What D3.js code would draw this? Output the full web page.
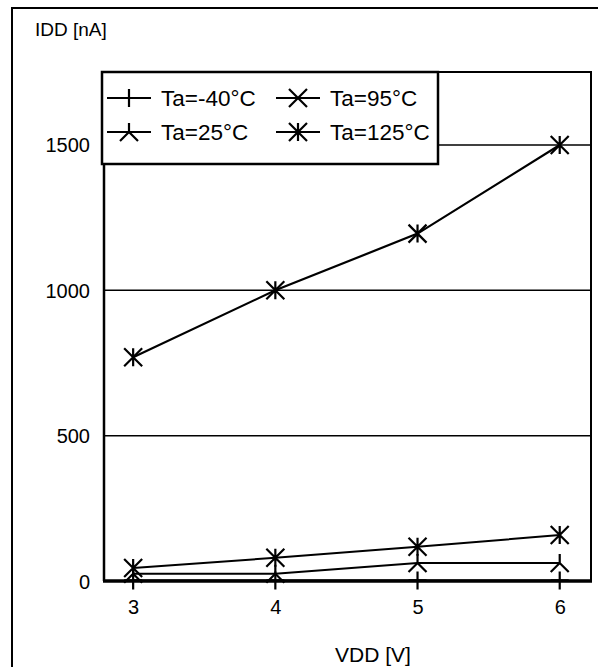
<!DOCTYPE html>
<html><head><meta charset="utf-8">
<script src="https://cdn.jsdelivr.net/npm/d3@7"></script>
<style>body{margin:0;background:#fff}text{font-family:"Liberation Sans",Arial,sans-serif;fill:#000}</style>
</head><body><svg id="c" width="600" height="667"></svg>
<script>
const vdd = [3, 4, 5, 6];
const seriesNames = ["Ta=-40°C", "Ta=25°C", "Ta=95°C", "Ta=125°C"];
const iddM40 = [2, 2, 2, 2];
const idd25 = [25, 25, 62, 62];
const idd95 = [45, 80, 118, 158];
const idd125 = [770, 1000, 1195, 1500];
const yTicks = [0, 500, 1000, 1500];
const xTicks = [3, 4, 5, 6];
const legendMarkers = ["plus", "lambda", "x", "asterisk"];
const plotMarkers = ["plus", "lambda", "asterisk", "asterisk"];
const seriesValues = [iddM40, idd25, idd95, idd125];

const svg = d3.select("#c");
const L = 104, R = 591, T = 72, B = 581;
const x = d3.scaleLinear().domain([2.795, 6.22]).range([L, R]);
const y = d3.scaleLinear().domain([0, 1751]).range([B, T]);
const FONT = "Liberation Sans, Arial, sans-serif";

const s = 9;
const markerPath = {
  plus: `M${-s},0H${s}M0,${-s}V${s}`,
  lambda: `M0,${-s}V0M${-s},${s}L0,0L${s},${s}`,
  x: `M${-s},${-s}L${s},${s}M${-s},${s}L${s},${-s}`,
  asterisk: `M${-s},${-s}L${s},${s}M${-s},${s}L${s},${-s}M0,${-s}V${s}`
};

// outer frame
svg.append("path").attr("d", `M12,680V8H598`).attr("fill", "none").attr("stroke", "#000").attr("stroke-width", 2);

// grid lines
svg.append("g").selectAll("line").data(yTicks.filter(d => d > 0)).join("line")
  .attr("x1", L).attr("x2", R).attr("y1", d => y(d)).attr("y2", d => y(d))
  .attr("stroke", "#000").attr("stroke-width", 1.5);

// plot frame
svg.append("rect").attr("x", L).attr("y", T).attr("width", R - L).attr("height", B - T)
  .attr("fill", "none").attr("stroke", "#000").attr("stroke-width", 2);
svg.append("line").attr("x1", L).attr("x2", L).attr("y1", T).attr("y2", B).attr("stroke", "#000").attr("stroke-width", 2.5);
svg.append("line").attr("x1", L - 1).attr("x2", R + 1).attr("y1", B).attr("y2", B).attr("stroke", "#000").attr("stroke-width", 3.5);

// axes labels via d3 axes (no domain/tick lines)
const yAxis = svg.append("g").attr("transform", `translate(${L - 14},0)`)
  .call(d3.axisLeft(y).tickValues(yTicks).tickFormat(d3.format("d")).tickSize(0).tickPadding(0));
yAxis.select(".domain").remove();
yAxis.selectAll("text").attr("font-size", 20).attr("font-family", FONT).attr("dy", "0.35em");

const xAxis = svg.append("g").attr("transform", `translate(0,${B + 19})`)
  .call(d3.axisBottom(x).tickValues(xTicks).tickFormat(d3.format("d")).tickSize(0).tickPadding(0));
xAxis.select(".domain").remove();
xAxis.selectAll("text").attr("font-size", 20).attr("font-family", FONT);

svg.append("text").attr("x", 35).attr("y", 36).attr("font-size", 19).text("IDD [nA]");
svg.append("text").attr("x", 373).attr("y", 662).attr("text-anchor", "middle").attr("font-size", 21).text("VDD [V]");

// series
const line = d3.line().x((d, i) => x(vdd[i])).y(d => y(d));
seriesValues.forEach((vals, k) => {
  svg.append("path").attr("d", line(vals)).attr("fill", "none").attr("stroke", "#000")
    .attr("stroke-width", k === 3 ? 2.2 : 2);
  svg.append("g").selectAll("path").data(vals).join("path")
    .attr("transform", (d, i) => `translate(${x(vdd[i])},${y(d)})`)
    .attr("d", markerPath[plotMarkers[k]])
    .attr("fill", "none").attr("stroke", "#000").attr("stroke-width", 2.2);
});

// legend
const lg = svg.append("g");
lg.append("rect").attr("x", 102).attr("y", 72).attr("width", 336).attr("height", 92)
  .attr("fill", "#fff").attr("stroke", "#000").attr("stroke-width", 2.5);
const legendPos = [[107, 98], [107, 132], [276, 98], [276, 132]];
seriesNames.forEach((name, k) => {
  const [lx, ly] = legendPos[k];
  lg.append("line").attr("x1", lx).attr("x2", lx + 44).attr("y1", ly).attr("y2", ly)
    .attr("stroke", "#000").attr("stroke-width", 2);
  lg.append("path").attr("transform", `translate(${lx + 22},${ly})`).attr("d", markerPath[legendMarkers[k]])
    .attr("fill", "none").attr("stroke", "#000").attr("stroke-width", 2.2);
  lg.append("text").attr("x", lx + 54).attr("y", ly).attr("dy", "0.35em").attr("font-size", 22.5).text(name);
});
</script></body></html>
